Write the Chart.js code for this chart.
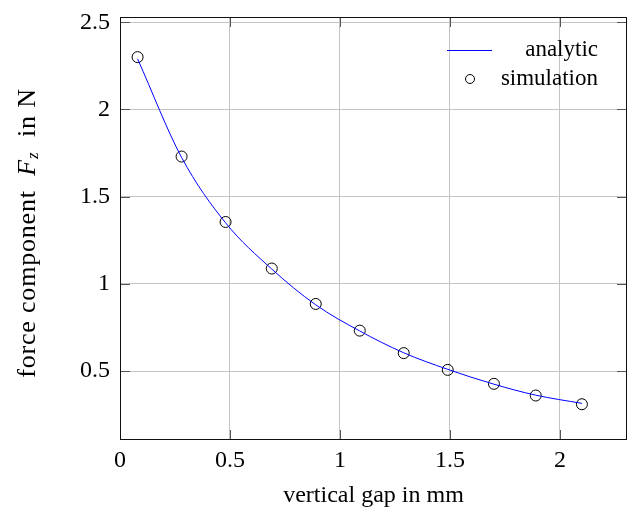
<!DOCTYPE html>
<html>
<head>
<meta charset="utf-8">
<script src="https://cdn.jsdelivr.net/npm/chart.js@4"></script>
<style>
  html, body { margin: 0; padding: 0; background: #fff; }
  #wrap { width: 630px; height: 514px; }
</style>
</head>
<body>
<div id="wrap"><canvas id="forceChart" width="630" height="514"></canvas></div>
<script>
// data
const gapSim = [0.08, 0.28, 0.48, 0.69, 0.89, 1.09, 1.29, 1.49, 1.70, 1.89, 2.10];
const forceSim = [2.30, 1.73, 1.355, 1.088, 0.885, 0.732, 0.603, 0.507, 0.427, 0.36, 0.31];
const gapAna = [0.08, 0.28, 0.48, 0.69, 0.89, 1.09, 1.29, 1.49, 1.70, 1.89, 2.10];
const forceAna = [2.29, 1.725, 1.35, 1.085, 0.88, 0.73, 0.605, 0.51, 0.425, 0.362, 0.315];
const xTicks = [0, 0.5, 1, 1.5, 2];
const yTicks = [0.5, 1, 1.5, 2, 2.5];

const serif = "'Liberation Serif', 'DejaVu Serif', serif";

function toPoints(xs, ys) {
  return xs.map((x, i) => ({x: x, y: ys[i]}));
}

function noPad(s) {
  s.paddingTop = 0; s.paddingBottom = 0;
  s.paddingLeft = 0; s.paddingRight = 0;
}

// frame, inward ticks, y title and legend (pgfplots look)
const extras = {
  id: 'extras',
  afterDraw(chart) {
    const ctx = chart.ctx;
    const a = chart.chartArea;
    const xs = chart.scales.x, ys = chart.scales.y;
    const tl = 10;
    ctx.save();
    ctx.strokeStyle = '#555';
    ctx.lineWidth = 1;
    ctx.beginPath();
    xTicks.forEach(v => {
      const px = Math.round(xs.getPixelForValue(v)) + 0.5;
      ctx.moveTo(px, a.bottom); ctx.lineTo(px, a.bottom - tl);
      ctx.moveTo(px, a.top); ctx.lineTo(px, a.top + tl);
    });
    yTicks.forEach(v => {
      const py = Math.round(ys.getPixelForValue(v)) + 0.5;
      ctx.moveTo(a.left, py); ctx.lineTo(a.left + tl, py);
      ctx.moveTo(a.right, py); ctx.lineTo(a.right - tl, py);
    });
    ctx.stroke();
    ctx.strokeStyle = '#111';
    ctx.strokeRect(a.left + 0.5, a.top + 0.5, a.right - a.left - 1, a.bottom - a.top - 1);

    // y axis title: force component F_z in N
    ctx.fillStyle = '#000';
    ctx.textBaseline = 'middle';
    ctx.textAlign = 'left';
    ctx.letterSpacing = '0.8px';
    const norm = '26px ' + serif, ital = 'italic 26px ' + serif, sub = 'italic 17px ' + serif;
    const parts = [
      {t: 'force component  ', f: norm, dy: 0},
      {t: 'F', f: ital, dy: 0},
      {t: 'z', f: sub, dy: 6},
      {t: '  in N', f: norm, dy: 0}
    ];
    let total = 0;
    parts.forEach(p => { ctx.font = p.f; p.w = ctx.measureText(p.t).width; total += p.w; });
    ctx.translate(28, 233);
    ctx.rotate(-Math.PI / 2);
    let cx = -total / 2;
    parts.forEach(p => { ctx.font = p.f; ctx.fillText(p.t, cx, p.dy); cx += p.w; });
    ctx.restore();

    // legend
    ctx.save();
    ctx.font = '23px ' + serif;
    ctx.fillStyle = '#000';
    ctx.textAlign = 'right';
    ctx.textBaseline = 'middle';
    ctx.strokeStyle = '#0000ff';
    ctx.lineWidth = 1;
    ctx.beginPath();
    ctx.moveTo(447, 50.5); ctx.lineTo(492, 50.5);
    ctx.stroke();
    ctx.fillText('analytic', 598, 50);
    ctx.strokeStyle = '#000';
    ctx.beginPath();
    ctx.arc(470, 79, 4.5, 0, Math.PI * 2);
    ctx.stroke();
    ctx.fillText('simulation', 598, 79);
    ctx.restore();
  }
};

const config = {
  type: 'scatter',
  data: {
    datasets: [
      {
        label: 'analytic',
        data: toPoints(gapAna, forceAna),
        showLine: true,
        borderColor: '#0000ff',
        borderWidth: 1,
        pointRadius: 0,
        tension: 0.4,
        cubicInterpolationMode: 'monotone'
      },
      {
        label: 'simulation',
        data: toPoints(gapSim, forceSim),
        showLine: false,
        pointStyle: 'circle',
        pointRadius: 5.5,
        pointBorderColor: '#000',
        pointBackgroundColor: 'rgba(0,0,0,0)',
        pointBorderWidth: 1
      }
    ]
  },
  options: {
    responsive: false,
    animation: false,
    layout: { autoPadding: false, padding: { left: 0, right: 3, top: 17, bottom: 0 } },
    plugins: {
      legend: { display: false },
      tooltip: { enabled: false }
    },
    scales: {
      x: {
        type: 'linear',
        min: 0,
        max: 2.305,
        afterBuildTicks: s => { s.ticks = xTicks.map(v => ({value: v})); },
        afterFit: s => { s.height = 74; noPad(s); },
        grid: { color: '#c4c4c4', drawTicks: false },
        border: { display: false },
        ticks: {
          padding: 6,
          color: '#000',
          font: { family: serif, size: 24 },
          callback: v => String(v)
        },
        title: {
          display: true,
          text: 'vertical gap in mm',
          color: '#000',
          font: { family: serif, size: 24 },
          padding: { top: 0, bottom: 4 }
        }
      },
      y: {
        type: 'linear',
        min: 0.105,
        max: 2.53,
        afterBuildTicks: s => { s.ticks = yTicks.map(v => ({value: v})); },
        afterFit: s => { s.width = 120; noPad(s); },
        grid: { color: '#c4c4c4', drawTicks: false },
        border: { display: false },
        ticks: {
          padding: 10,
          color: '#000',
          font: { family: serif, size: 24 },
          callback: v => String(v)
        }
      }
    }
  },
  plugins: [extras]
};

const myChart = new Chart(document.getElementById('forceChart'), config);
</script>
</body>
</html>
